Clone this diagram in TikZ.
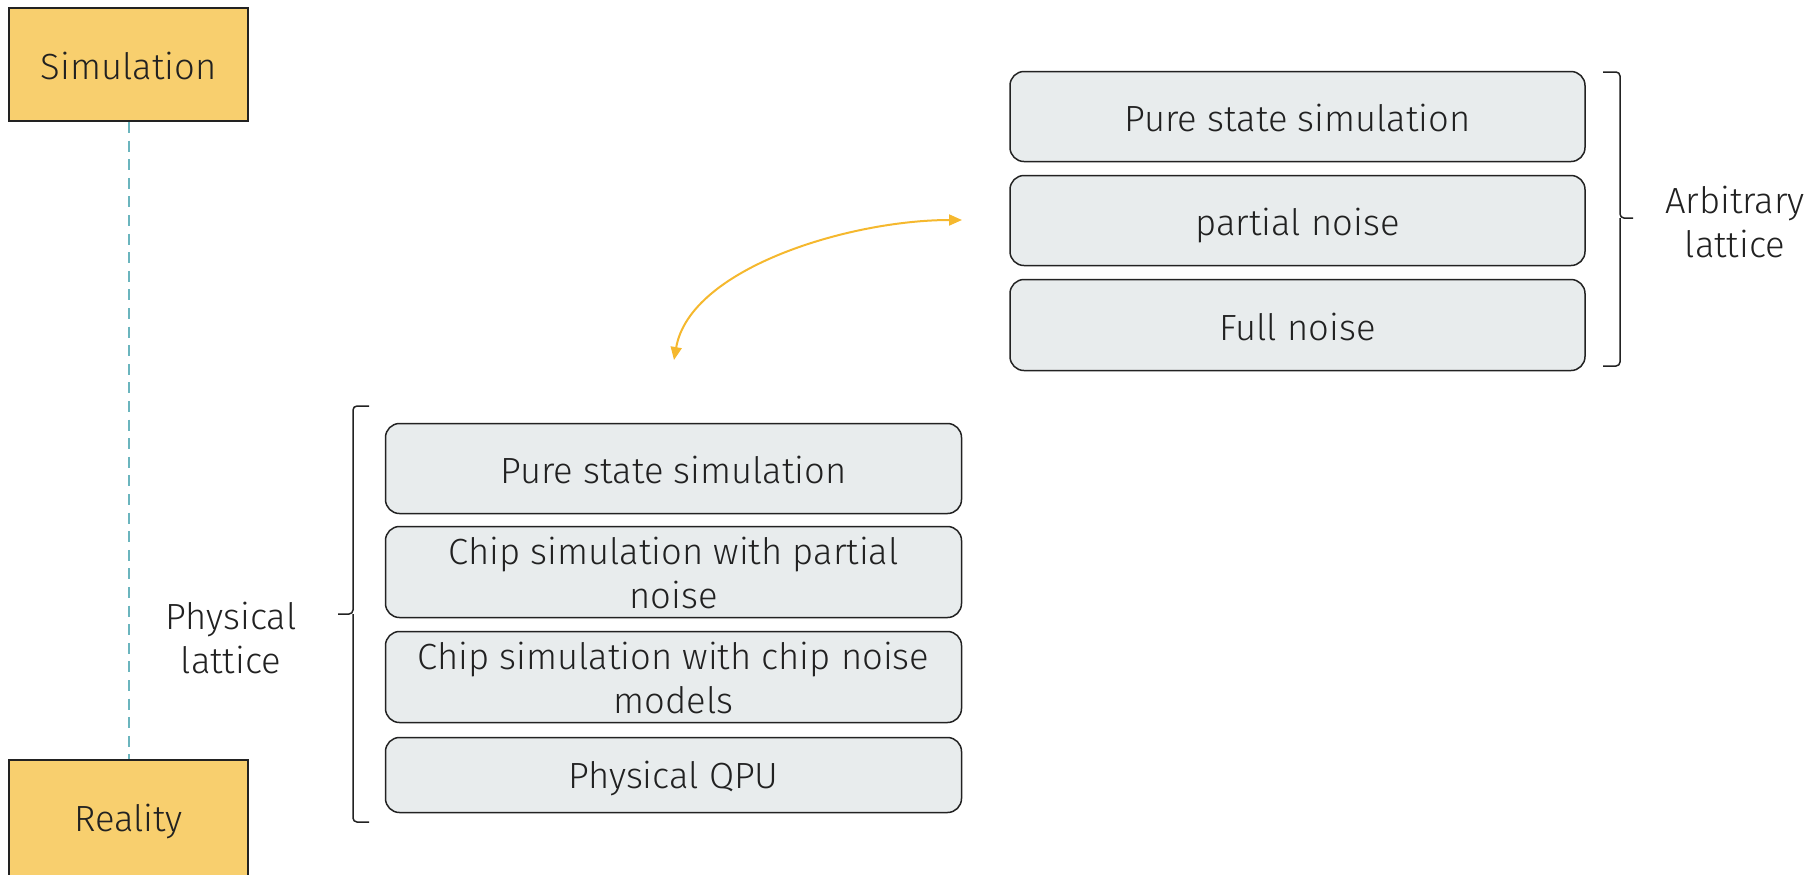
\documentclass[tikz,border=0pt]{standalone}
\usepackage{fontspec}
\setmainfont{Fira Sans}[UprightFont={* Light}]
\usetikzlibrary{arrows.meta}
\definecolor{yel}{HTML}{F8CF6E}
\definecolor{gry}{HTML}{E8ECED}
\definecolor{edge}{HTML}{222222}
\definecolor{teal}{HTML}{6BB5BE}
\definecolor{orng}{HTML}{F5B82E}
\definecolor{txt}{HTML}{212121}
\begin{document}
\begin{tikzpicture}[x=0.5pt,y=-0.5pt,
  yelbox/.style={draw=edge,line width=1pt,fill=yel,minimum width=119.5pt,text=txt,
    font=\fontsize{18.2}{22}\selectfont,inner sep=0pt},
  lvl/.style={draw=edge,line width=0.75pt,fill=gry,rounded corners=7pt,minimum width=#1,
    text=txt,align=center,font=\fontsize{18.2}{22}\selectfont,inner sep=0pt},
  oneline/.style={text height=18pt,text depth=3pt},
  twotext/.style={text=txt,align=center,font=\fontsize{18.2}{22}\selectfont,inner sep=0pt,yshift=-0.4pt},
  lbl/.style={text=txt,align=center,font=\fontsize{18.2}{22}\selectfont},
  brace/.style={draw=edge,line width=0.75pt,rounded corners=2pt},
  link/.style={draw=orng,line width=1pt,{Triangle[length=6.5pt,width=5.5pt]}-{Triangle[length=6.5pt,width=5.5pt]}}]
\useasboundingbox (0,0) rectangle (1810,874);
\begin{scope}
\clip (0,0) rectangle (1810,874);
% yellow boxes
\node[yelbox,minimum height=56.5pt,oneline] (sim) at (128.5,64.5) {Simulation};
\node[yelbox,minimum height=60pt] (real) at (128.5,820) {};
\node[text=txt,font=\fontsize{18.2}{22}\selectfont] (reallbl) at (128.5,821.5) {Reality};
\draw[draw=teal,line width=1pt,dash pattern=on 5.5pt off 3.8pt] (sim.south) -- (real.north);
% right group
\node[lvl=287.5pt,minimum height=45pt,oneline] (r1) at (1297.5,116.5) {Pure state simulation};
\node[lvl=287.5pt,minimum height=45pt,oneline] (r2) at (1297.5,220.5) {partial noise};
\node[lvl=287.5pt,minimum height=45.5pt,oneline] (r3) at (1297.5,325) {Full noise};
% left group
\node[lvl=288pt,minimum height=45pt,oneline] (l1) at (673.5,468.5) {Pure state simulation};
\node[lvl=288pt,minimum height=45.5pt] (l2) at (673.5,572) {};
\node[twotext] (l2t) at (l2.center) {Chip simulation with partial\\noise};
\node[lvl=288pt,minimum height=45.5pt] (l3) at (673.5,677) {};
\node[twotext] (l3t) at (l3.center) {Chip simulation with chip noise\\models};
\node[lvl=288pt,minimum height=37.5pt,text height=16pt,text depth=3pt] (l4) at (673.5,775) {Physical QPU};
% braces
\draw[brace] (1603,72) -- (1620,72) -- (1620,218) -- (1633,218);
\draw[brace] (1620,218) -- (1620,366) -- (1603,366);
\draw[brace] (369,406) -- (353,406) -- (353,614) -- (338,614);
\draw[brace] (353,614) -- (353,822) -- (369,822);
\node[lbl] (arb) at (1735,221.5) {Arbitrary\\lattice};
\node[lbl] (phy) at (231,638) {Physical\\lattice};
% arrow
\coordinate (a1) at (674,360);
\coordinate (a2) at (962,220);
\draw[link] (a1) .. controls (690,268) and (850,220) .. (a2);
\end{scope}
\end{tikzpicture}
\end{document}
